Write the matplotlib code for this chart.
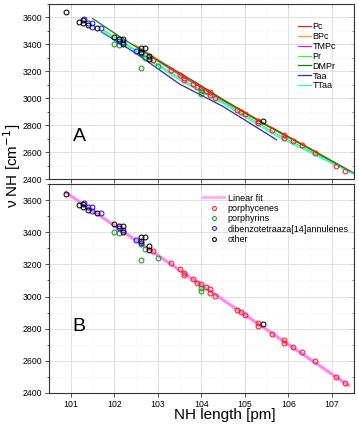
import numpy as np
import matplotlib
matplotlib.use("Agg")
import matplotlib.pyplot as plt
from matplotlib.ticker import MultipleLocator
from matplotlib.lines import Line2D

plt.rcParams['font.family'] = ['Liberation Sans', 'DejaVu Sans']

# ---------------- data ----------------
porphycenes_x = [102.89, 103.31, 103.50, 103.59, 103.59, 103.81, 103.90, 104.00, 104.10, 104.20,
                 104.20, 104.31, 104.81, 104.91, 105.01, 105.30, 105.30, 105.62, 105.91, 105.91,
                 106.11, 106.31, 106.61, 107.11, 107.31]
porphycenes_y = [3286, 3209, 3172, 3148, 3135, 3109, 3086, 3079, 3058, 3050,
                 3025, 3002, 2916, 2901, 2887, 2833, 2817, 2768, 2727, 2709,
                 2685, 2653, 2595, 2497, 2459]

porphyrins_x = [102.00, 102.10, 102.60, 102.70, 102.60, 103.00, 104.00, 104.00]
porphyrins_y = [3405, 3398, 3330, 3296, 3225, 3242, 3053, 3033]

dibenzo_x = [101.30, 101.40, 101.48, 101.48, 101.69, 102.10, 102.20, 102.49, 102.60]
dibenzo_y = [3586, 3556, 3556, 3533, 3519, 3428, 3418, 3354, 3336]

other_x = [100.88, 101.19, 101.28, 101.28, 101.38, 101.59, 102.00, 102.10, 102.20, 102.20,
           102.60, 102.70, 102.60, 102.79, 102.79, 105.41]
other_y = [3642, 3569, 3580, 3560, 3542, 3521, 3452, 3442, 3442, 3405,
           3371, 3371, 3347, 3317, 3292, 2829]

fit_range = [100.85, 107.42]

curve_names = ['Pc', 'BPc', 'TMPc', 'Pr', 'DMPr', 'Taa', 'TTaa']
curve_colors = ['#ff2020', '#ff9a40', '#ff20b0', '#30ff30', '#108010', '#2a2ab8', '#30f0e0']
Pc_x = [102.5, 103.0, 103.5, 104.0, 104.5, 105.0, 105.5, 106.0, 106.5, 107.0, 107.5]
Pc_y = [3388, 3282, 3180, 3084, 2988, 2895, 2803, 2715, 2628, 2535, 2445]
BPc_x = [102.45, 103.0, 103.5, 104.0, 104.5, 105.0, 105.5, 106.0, 106.5, 107.0, 107.5]
BPc_y = [3402, 3290, 3188, 3090, 2994, 2900, 2808, 2719, 2631, 2538, 2448]
TMPc_x = [102.55, 103.0, 103.5, 104.0, 104.5, 105.0, 105.5, 106.0, 106.5, 107.0, 107.5]
TMPc_y = [3374, 3276, 3174, 3078, 2983, 2890, 2799, 2711, 2624, 2532, 2442]
Pr_x = [101.75, 102.5, 103.5, 104.5, 105.7, 106.5, 107.5]
Pr_y = [3505, 3355, 3150, 2972, 2742, 2610, 2442]
DMPr_x = [101.5, 102.1, 103.0, 103.84, 104.5, 105.5, 106.0, 107.5]
DMPr_y = [3592, 3462, 3282, 3125, 2990, 2802, 2715, 2447]
Taa_x = [101.7, 102.5, 103.5, 104.5, 105.73]
Taa_y = [3493, 3333, 3106, 2940, 2693]
TTaa_x = [101.7, 102.5, 103.5, 104.5, 105.7, 106.5, 107.5]
TTaa_y = [3500, 3345, 3135, 2962, 2726, 2598, 2440]
curves_x = [Pc_x, BPc_x, TMPc_x, Pr_x, DMPr_x, Taa_x, TTaa_x]
curves_y = [Pc_y, BPc_y, TMPc_y, Pr_y, DMPr_y, Taa_y, TTaa_y]

group_labels = ['porphycenes', 'porphyrins', 'dibenzotetraaza[14]annulenes', 'other']
group_colors = ['#ff1a1a', '#1a9a1a', '#1a1aff', '#000000']
groups_x = [porphycenes_x, porphyrins_x, dibenzo_x, other_x]
groups_y = [porphycenes_y, porphyrins_y, dibenzo_y, other_y]

# ---------------- figure ----------------
W, H = 359, 429
fig = plt.figure(figsize=(W / 100, H / 100), dpi=100)
L, R = 49.3, 354.3
axA = fig.add_axes([L / W, 1 - 179.3 / H, (R - L) / W, 175.3 / H])
axB = fig.add_axes([L / W, 1 - 392.7 / H, (R - L) / W, 208.4 / H])

tick_fs = 6.3
for ax in (axA, axB):
    ax.set_xlim(100.5, 107.52)
    ax.set_ylim(2400, 3700)
    ax.xaxis.set_major_locator(MultipleLocator(1))
    ax.xaxis.set_minor_locator(MultipleLocator(0.5))
    ax.yaxis.set_major_locator(MultipleLocator(200))
    ax.yaxis.set_minor_locator(MultipleLocator(100))
    ax.grid(which='major', color='#dcdcdc', lw=0.6, zorder=0)
    ax.grid(which='minor', color='#ececec', lw=0.5, ls=':', zorder=0)
    ax.set_axisbelow(True)
    for s in ax.spines.values():
        s.set_color('#333333')
        s.set_linewidth(0.8)
    ax.tick_params(which='both', labelsize=tick_fs, width=0.6, color='#333333', pad=2)
    ax.tick_params(axis='y', which='major', direction='out', length=3, left=True, right=False)
    ax.tick_params(axis='y', which='minor', direction='out', length=1.6, left=True, right=False)
    ax.tick_params(axis='x', which='minor', length=0)
    ax.tick_params(axis='x', which='major', direction='out', length=3, top=False)
    axr = ax.secondary_yaxis('right')
    axr.yaxis.set_major_locator(MultipleLocator(200))
    axr.yaxis.set_minor_locator(MultipleLocator(100))
    axr.tick_params(which='major', direction='in', length=3, width=0.6, labelright=False, color='#333333')
    axr.tick_params(which='minor', direction='in', length=1.6, width=0.6, color='#333333')
    axr.spines['right'].set_visible(False)
    axt = ax.secondary_xaxis('top')
    axt.xaxis.set_major_locator(MultipleLocator(1))
    axt.tick_params(which='major', direction='in', length=3, width=0.6, labeltop=False, color='#333333')
    axt.tick_params(which='minor', length=0)
    axt.spines['top'].set_visible(False)

axA.tick_params(axis='x', labelbottom=False)

ms = 3.5
mew = 0.75
# Panel A: curves + data
for name, col, xs, ys in zip(curve_names, curve_colors, curves_x, curves_y):
    axA.plot(xs, ys, color=col, lw=0.9, label=name, zorder=2)
for lab, col, xs, ys in zip(group_labels, group_colors, groups_x, groups_y):
    axA.plot(xs, ys, 'o', mfc='none', mec=col, ms=ms, mew=mew, ls='none', zorder=3)

axA.legend(loc='upper left', bbox_to_anchor=((298 - L) / (R - L), (179.3 - 22) / 175.3),
           frameon=False, fontsize=6.5, handlelength=1.4, handletextpad=0.2,
           labelspacing=0.1, borderpad=0, borderaxespad=0)
axA.text(101.19, 2716, 'A', fontsize=14, ha='center', va='center')

# Panel B: linear fit + data
all_x = np.concatenate([np.asarray(v, float) for v in groups_x])
all_y = np.concatenate([np.asarray(v, float) for v in groups_y])
coef = np.polyfit(all_x, all_y, 1)
fx = np.asarray(fit_range)
axB.plot(fx, np.polyval(coef, fx), color='#ff88f0', lw=2.3, zorder=2, solid_capstyle='butt')
for lab, col, xs, ys in zip(group_labels, group_colors, groups_x, groups_y):
    axB.plot(xs, ys, 'o', mfc='none', mec=col, ms=ms, mew=mew, ls='none', zorder=3)

handles = [Line2D([], [], color='#ffb0f4', lw=2.3)]
handles += [Line2D([], [], marker='o', mfc='none', mec=c, ms=2.8, mew=0.75, ls='none')
            for c in group_colors]
axB.legend(handles, ['Linear fit'] + group_labels, loc='upper left',
           bbox_to_anchor=((202.7 - L) / (R - L), (392.7 - 193.5) / 208.4),
           frameon=False, fontsize=6.5, handlelength=2.4, handletextpad=0.35,
           labelspacing=0.15, borderpad=0, borderaxespad=0)
axB.text(101.19, 2812, 'B', fontsize=14, ha='center', va='center')

fig.text((161.7 + 288) / 2 / W, 1 - 415 / H, 'NH length [pm]', fontsize=11,
         ha='center', va='center')
fig.text(12 / W, 1 - 166 / H, 'ν NH [cm$^{-1}$]', fontsize=11, rotation=90,
         ha='center', va='center')

fig.savefig('out.png', dpi=100)
